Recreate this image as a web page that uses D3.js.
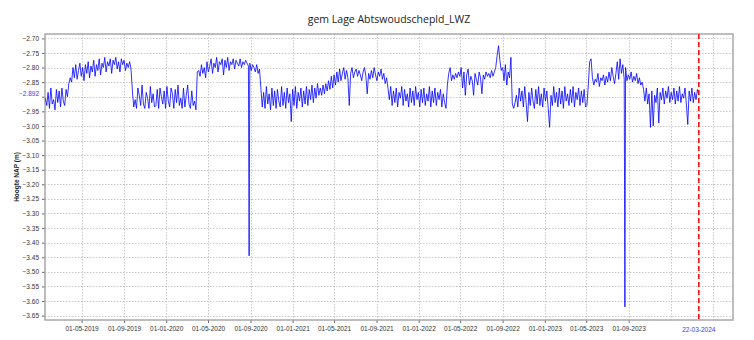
<!DOCTYPE html>
<html><head><meta charset="utf-8">
<script src="https://cdn.jsdelivr.net/npm/d3@7"></script>
<style>
body{margin:0;background:#fff;}
svg{display:block;}
</style></head>
<body><svg id="c" width="754" height="340"></svg>
<script>
// ---- data ----
const title = "gem Lage Abtswoudschepld_LWZ";
const yLabel = "Hoogte NAP (m)";
const startDate = "2019-01-16";
const stepDays = 4;
const winter2019a = [-2.905,-2.93,-2.885,-2.94,-2.87,-2.925,-2.91,-2.945,-2.875,-2.92,-2.88,-2.935,-2.87,-2.915,-2.93,-2.875,-2.90];
const rise2019 = [-2.855,-2.835,-2.85];
const summer2019 = [-2.80,-2.835,-2.79,-2.84,-2.81,-2.785,-2.83,-2.80,-2.845,-2.79,-2.82,-2.78,-2.835,-2.795,-2.815,-2.775,-2.83,-2.79,-2.81,-2.77,-2.825,-2.785,-2.80,-2.765,-2.815,-2.78,-2.795,-2.77,-2.82,-2.775,-2.79,-2.765,-2.805,-2.78,-2.815,-2.77,-2.79,-2.775,-2.81,-2.785,-2.80,-2.78,-2.805];
const winter2019 = [-2.88,-2.935,-2.91,-2.94,-2.87,-2.895,-2.93,-2.86,-2.925,-2.94,-2.885,-2.905,-2.94,-2.865,-2.92,-2.89,-2.935,-2.93,-2.875,-2.94,-2.87,-2.90,-2.925,-2.88,-2.94,-2.865,-2.915,-2.935,-2.87,-2.89,-2.94,-2.875,-2.92,-2.86,-2.93,-2.905,-2.94,-2.87,-2.935,-2.895,-2.86,-2.925,-2.94,-2.88,-2.93,-2.915,-2.945];
const summer2020 = [-2.815,-2.81,-2.83,-2.79,-2.82,-2.80,-2.835,-2.78,-2.815,-2.795,-2.77,-2.82,-2.785,-2.80,-2.765,-2.815,-2.78,-2.79,-2.77,-2.825,-2.775,-2.80,-2.765,-2.81,-2.78,-2.79,-2.77,-2.805,-2.775,-2.785,-2.795,-2.77,-2.80,-2.78,-2.79,-2.775,-2.785,-2.795,-2.785,-2.81,-2.79,-2.80,-2.815,-2.79,-2.82,-2.805];
const winter2020 = [-2.87,-2.935,-2.885,-2.94,-2.865,-2.925,-2.89,-2.945,-2.87,-2.93,-2.88,-2.94,-2.875,-2.915,-2.935,-2.865,-2.93,-2.885,-2.94,-2.87,-2.92,-2.89,-2.985,-2.875,-2.93,-2.865,-2.94,-2.885,-2.915,-2.87,-2.935,-2.88,-2.925,-2.865,-2.93,-2.875,-2.91,-2.86,-2.92,-2.87,-2.905,-2.855,-2.895];
const summer2021 = [-2.87,-2.895,-2.86,-2.89,-2.855,-2.88,-2.845,-2.875,-2.83,-2.87,-2.825,-2.86,-2.815,-2.85,-2.805,-2.845,-2.82,-2.80,-2.84,-2.81,-2.835,-2.93,-2.82,-2.80,-2.835,-2.815,-2.805,-2.83,-2.81,-2.825,-2.845,-2.815,-2.80,-2.83,-2.89,-2.82,-2.84,-2.81,-2.835,-2.80,-2.825,-2.845,-2.815,-2.83,-2.805,-2.84,-2.82,-2.855,-2.835];
const winter2021 = [-2.87,-2.91,-2.865,-2.93,-2.88,-2.92,-2.87,-2.935,-2.885,-2.905,-2.865,-2.93,-2.875,-2.915,-2.89,-2.935,-2.87,-2.92,-2.88,-2.93,-2.865,-2.91,-2.885,-2.935,-2.875,-2.92,-2.87,-2.93,-2.89,-2.915,-2.865,-2.935,-2.88,-2.92,-2.87,-2.93,-2.885,-2.91,-2.875,-2.935,-2.89,-2.92,-2.94];
const summer2022 = [-2.86,-2.82,-2.80,-2.845,-2.825,-2.84,-2.82,-2.835,-2.815,-2.83,-2.80,-2.87,-2.815,-2.895,-2.825,-2.805,-2.86,-2.83,-2.845,-2.895,-2.82,-2.84,-2.86,-2.815,-2.835,-2.89,-2.825,-2.84,-2.815,-2.83,-2.82,-2.835,-2.81,-2.83,-2.815,-2.80,-2.76,-2.725,-2.775,-2.81,-2.80,-2.845,-2.79,-2.86,-2.815,-2.835,-2.765];
const winter2022 = [-2.925,-2.94,-2.92,-2.895,-2.935,-2.87,-2.915,-2.88,-2.935,-2.865,-2.92,-2.985,-2.885,-2.93,-2.87,-2.915,-2.94,-2.875,-2.925,-2.865,-2.93,-2.89,-2.935,-2.87,-2.915,-2.88,-2.94,-3.005,-2.895,-2.93,-2.865,-2.92,-2.885,-2.935,-2.87,-2.925,-2.88,-2.94,-2.865,-2.915,-2.89,-2.93,-2.875,-2.92,-2.865,-2.935,-2.885,-2.91,-2.87,-2.93,-2.88,-2.92,-2.875,-2.935,-2.93];
const summer2023 = [-2.86,-2.78,-2.77,-2.835,-2.86,-2.84,-2.85,-2.82,-2.865,-2.835,-2.845,-2.825,-2.86,-2.83,-2.85,-2.815,-2.845,-2.80,-2.83,-2.855,-2.82,-2.78,-2.84,-2.77,-2.82,-2.79,-2.84,-2.80,-2.845,-2.825,-2.84,-2.815,-2.85,-2.83,-2.845,-2.82,-2.855,-2.835,-2.86,-2.85];
const winter2023 = [-2.875,-2.915,-2.87,-2.925,-2.89,-3.005,-2.88,-3.00,-2.895,-2.92,-2.87,-2.99,-2.885,-2.91,-2.87,-2.925,-2.88,-2.905,-2.865,-2.92,-2.885,-2.91,-2.87,-2.925,-2.88,-2.915,-2.865,-2.92,-2.89,-2.905,-2.87,-2.925,-2.995,-2.88,-2.915,-2.87,-2.92,-2.885,-2.91,-2.875,-2.892];
const spikeDates = ["2020-08-27","2020-08-28","2023-08-20","2023-08-21"];
const spikeValues = [-3.127,-3.445,-3.22,-3.62];
const xTickDates = ["2019-05-01","2019-09-01","2020-01-01","2020-05-01","2020-09-01","2021-01-01","2021-05-01","2021-09-01","2022-01-01","2022-05-01","2022-09-01","2023-01-01","2023-05-01","2023-09-01"];
const xGridOnly = ["2024-01-01","2024-05-01"];
const markerDate = "2024-03-22";
const markerLabel = "22-03-2024";
const lastValue = -2.892;
const yTickValues = [-2.70,-2.75,-2.80,-2.85,-2.90,-2.95,-3.00,-3.05,-3.10,-3.15,-3.20,-3.25,-3.30,-3.35,-3.40,-3.45,-3.50,-3.55,-3.60,-3.65];
const yHiddenLabel = -2.90;

// ---- build series ----
const parse = d3.utcParse("%Y-%m-%d");
const allVals = [].concat(winter2019a, rise2019, summer2019, winter2019, summer2020, winter2020,
  summer2021, winter2021, summer2022, winter2022, summer2023, winter2023);
const t0 = parse(startDate);
let series = allVals.map((v,i)=>({date:d3.utcDay.offset(t0, i*stepDays), value:v}));
spikeDates.forEach((d,i)=>series.push({date:parse(d), value:spikeValues[i]}));
series.sort((a,b)=>a.date-b.date);

// ---- layout ----
const L=45, R=733, T=34, B=320;
const svg = d3.select("#c");
const x = d3.scaleUtc().domain([parse("2019-01-15"), parse("2024-06-29")]).range([L,R]);
const y = d3.scaleLinear().domain([-3.665,-2.685]).range([B,T]);
const fmtX = d3.utcFormat("%d-%m-%Y");
const font = "'Liberation Sans', Arial, sans-serif";

// grid
const grid = svg.append("g").attr("stroke","#c8c8c8").attr("stroke-dasharray","1.5,1.5").attr("stroke-width",1);
yTickValues.forEach(v=>grid.append("line").attr("x1",L).attr("x2",R).attr("y1",Math.round(y(v))+0.5).attr("y2",Math.round(y(v))+0.5));
xTickDates.concat(xGridOnly).forEach(d=>grid.append("line").attr("x1",Math.round(x(parse(d)))+0.5).attr("x2",Math.round(x(parse(d)))+0.5).attr("y1",T).attr("y2",B));

// axes
const yAxis = d3.axisLeft(y).tickValues(yTickValues).tickSize(3).tickPadding(3)
  .tickFormat(v=>Math.abs(v-yHiddenLabel)<1e-9?"":d3.format(".2f")(v));
const gy = svg.append("g").attr("transform",`translate(${L},0)`).call(yAxis);
gy.select(".domain").remove();
gy.selectAll("text").attr("font-family",font).attr("font-size","6.5px").attr("fill","#333");
gy.selectAll("line").attr("stroke","#666");

const xAxis = d3.axisBottom(x).tickValues(xTickDates.map(parse)).tickSize(3).tickPadding(3).tickFormat(fmtX);
const gx = svg.append("g").attr("transform",`translate(0,${B})`).call(xAxis);
gx.select(".domain").remove();
gx.selectAll("text").attr("font-family",font).attr("font-size","6.5px").attr("fill","#333");
gx.selectAll("line").attr("stroke","#666");

// highlighted labels
svg.append("text").attr("x",L-6).attr("y",y(lastValue)).attr("dy","0.32em").attr("text-anchor","end")
  .attr("font-family",font).attr("font-size","6.5px").attr("fill","#3a3aff").text(d3.format(".3f")(lastValue));
svg.append("text").attr("x",x(parse(markerDate))).attr("y",B+12).attr("text-anchor","middle")
  .attr("font-family",font).attr("font-size","6.5px").attr("fill","#3a3aff").text(markerLabel);

// frame
svg.append("rect").attr("x",L).attr("y",T).attr("width",R-L).attr("height",B-T)
  .attr("fill","none").attr("stroke","#a8a8a8").attr("stroke-width",1.5);

// line
const line = d3.line().x(d=>x(d.date)).y(d=>y(d.value));
svg.append("path").datum(series).attr("d",line).attr("fill","none").attr("stroke","#0000ff").attr("stroke-width",0.8);

// marker
svg.append("line").attr("x1",x(parse(markerDate))).attr("x2",x(parse(markerDate))).attr("y1",T).attr("y2",B)
  .attr("stroke","#ff0000").attr("stroke-width",1.5).attr("stroke-dasharray","5,3");

// title
svg.append("text").attr("x",(L+R)/2).attr("y",23).attr("text-anchor","middle")
  .attr("font-family","'Open Sans', sans-serif").attr("font-size","10.5px").attr("fill","#222").text(title);
// y label
svg.append("text").attr("transform",`translate(19,${(T+B)/2}) rotate(-90)`).attr("text-anchor","middle")
  .attr("font-family",font).attr("font-size","6.5px").attr("font-weight","bold").attr("fill","#222").text(yLabel);
</script></body></html>
